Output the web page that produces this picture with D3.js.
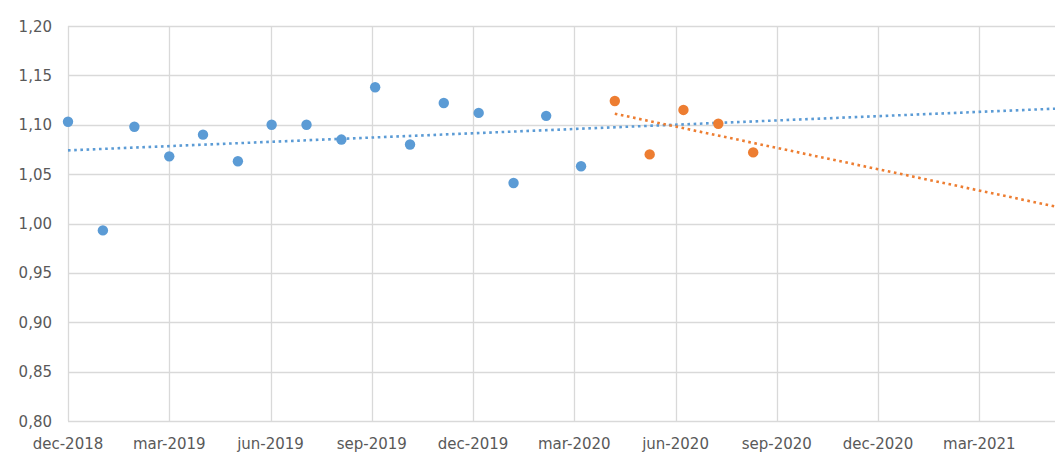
<!DOCTYPE html>
<html>
<head>
<meta charset="utf-8">
<script src="https://cdn.jsdelivr.net/npm/d3@7"></script>
<style>
  html, body { margin: 0; padding: 0; background: #fff; }
  svg { display: block; }
  text { font-family: "DejaVu Sans", sans-serif; fill: #595959; }
</style>
</head>
<body>
<svg id="chart" width="1055" height="453"></svg>
<script>
// ---- data ----
const blueDates = ["2018-12-31","2019-01-31","2019-02-28","2019-03-31","2019-04-30","2019-05-31",
                   "2019-06-30","2019-07-31","2019-08-31","2019-09-30","2019-10-31","2019-11-30",
                   "2019-12-31","2020-01-31","2020-02-29","2020-03-31"];
const blueValues = [1.103, 0.993, 1.098, 1.068, 1.090, 1.063, 1.100, 1.100, 1.085, 1.138, 1.080, 1.122,
                    1.112, 1.041, 1.109, 1.058];
const orangeDates = ["2020-04-30","2020-05-31","2020-06-30","2020-07-31","2020-08-31"];
const orangeValues = [1.124, 1.070, 1.115, 1.101, 1.072];
const xTickLabels = ["dec-2018","mar-2019","jun-2019","sep-2019","dec-2019","mar-2020",
                     "jun-2020","sep-2020","dec-2020","mar-2021"];
const yTicks = [0.80, 0.85, 0.90, 0.95, 1.00, 1.05, 1.10, 1.15, 1.20];
const axisStart = "2018-12-31";
const majorUnitDays = 90;
const axisUnits = 10;

// ---- layout ----
const parse = d3.timeParse("%Y-%m-%d");
const mLeft = 68, mTop = 26, mBottom = 421;
const pxPerUnit = 101.26;

const start = parse(axisStart);
const end = d3.timeDay.offset(start, majorUnitDays * axisUnits);
const x = d3.scaleTime().domain([start, end]).range([mLeft, mLeft + pxPerUnit * axisUnits]);
const y = d3.scaleLinear().domain([0.80, 1.20]).range([mBottom, mTop]);

const svg = d3.select("#chart");
const blue = "#5b9bd5", orange = "#ed7d31", grid = "#d9d9d9";

const tickDates = xTickLabels.map((l, i) => d3.timeDay.offset(start, majorUnitDays * i));

// horizontal gridlines
svg.append("g").selectAll("line").data(yTicks).join("line")
  .attr("x1", mLeft).attr("x2", 1055)
  .attr("y1", d => Math.round(y(d)) + 0.5).attr("y2", d => Math.round(y(d)) + 0.5)
  .attr("stroke", grid).attr("stroke-width", 1.3);

// vertical gridlines
svg.append("g").selectAll("line").data(tickDates).join("line")
  .attr("x1", d => Math.round(x(d)) + 0.5).attr("x2", d => Math.round(x(d)) + 0.5)
  .attr("y1", mTop).attr("y2", mBottom)
  .attr("stroke", grid).attr("stroke-width", 1.3);

// y labels
const fmt = d => d3.format(".2f")(d).replace(".", ",");
svg.append("g").selectAll("text").data(yTicks).join("text")
  .attr("x", 52).attr("y", d => y(d) + 5.5)
  .attr("text-anchor", "end").style("font-size", "15px")
  .text(fmt);

// x labels
svg.append("g").selectAll("text").data(xTickLabels).join("text")
  .attr("x", (d, i) => x(tickDates[i])).attr("y", 449)
  .attr("text-anchor", "middle").style("font-size", "15px")
  .text(d => d);

// trendlines (least squares on date)
function trend(dates, values, color) {
  const xs = dates.map(d => +parse(d));
  const n = xs.length;
  const mx = d3.mean(xs), my = d3.mean(values);
  let sxy = 0, sxx = 0;
  for (let i = 0; i < n; i++) { sxy += (xs[i] - mx) * (values[i] - my); sxx += (xs[i] - mx) ** 2; }
  const b = sxy / sxx, a = my - b * mx;
  const pts = [xs[0], +end].map(t => [x(new Date(t)), y(a + b * t)]);
  svg.append("path").attr("d", d3.line()(pts))
    .attr("fill", "none").attr("stroke", color).attr("stroke-width", 2.6)
    .attr("stroke-dasharray", "2.6,3.6");
}
trend(blueDates, blueValues, blue);
trend(orangeDates, orangeValues, orange);

// points
function points(dates, values, color) {
  svg.append("g").selectAll("circle").data(values).join("circle")
    .attr("cx", (d, i) => x(parse(dates[i]))).attr("cy", d => y(d))
    .attr("r", 5.2).attr("fill", color);
}
points(blueDates, blueValues, blue);
points(orangeDates, orangeValues, orange);
</script>
</body>
</html>
